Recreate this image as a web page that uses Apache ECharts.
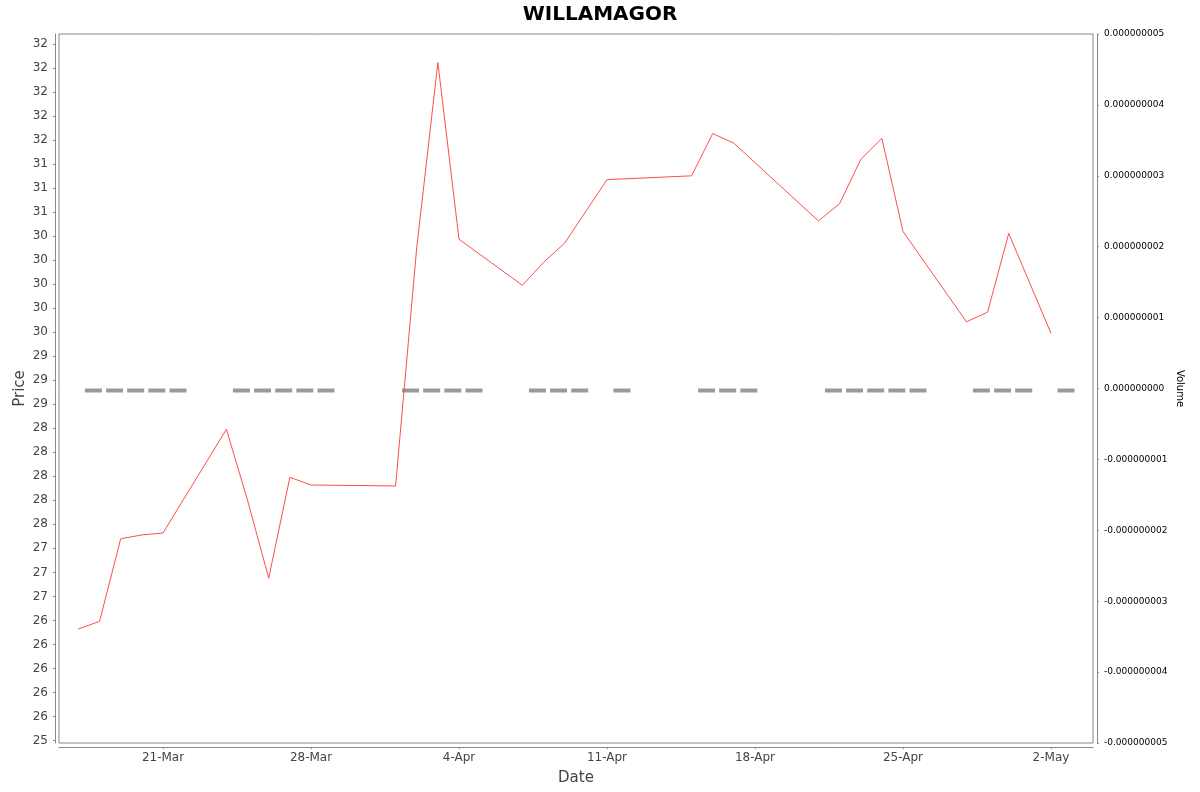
<!DOCTYPE html>
<html>
<head>
<meta charset="utf-8">
<script src="https://cdn.jsdelivr.net/npm/echarts@6/dist/echarts.min.js"></script>
<style>html,body{margin:0;padding:0;background:#fff;}#c{width:1200px;height:792px;}</style>
</head>
<body>
<div id="c"></div>
<script>
const title = 'WILLAMAGOR';
const tradeDates = ['2025-03-17','2025-03-18','2025-03-19','2025-03-20','2025-03-21',
  '2025-03-24','2025-03-25','2025-03-26','2025-03-27','2025-03-28',
  '2025-04-01','2025-04-02','2025-04-03','2025-04-04',
  '2025-04-07','2025-04-08','2025-04-09','2025-04-11',
  '2025-04-15','2025-04-16','2025-04-17',
  '2025-04-21','2025-04-22','2025-04-23','2025-04-24','2025-04-25',
  '2025-04-28','2025-04-29','2025-04-30','2025-05-02'];
const priceValues = [26.41, 26.49, 27.35, 27.39, 27.41,
  28.49, 27.75, 26.94, 27.99, 27.91,
  27.90, 30.38, 32.31, 30.47,
  29.99, 30.23, 30.43, 31.09,
  31.13, 31.57, 31.47,
  30.66, 30.84, 31.30, 31.52, 30.55,
  29.61, 29.71, 30.53, 29.49];
const volumeValues = [0,0,0,0,0, 0,0,0,0,0, 0,0,0,0, 0,0,0,0, 0,0,0, 0,0,0,0,0, 0,0,0, 0];
const dateTicks = ['2025-03-21','2025-03-28','2025-04-04','2025-04-11','2025-04-18','2025-04-25','2025-05-02'];
const priceTicks = [25.25,25.5,25.75,26,26.25,26.5,26.75,27,27.25,27.5,27.75,28,28.25,28.5,28.75,
  29,29.25,29.5,29.75,30,30.25,30.5,30.75,31,31.25,31.5,31.75,32,32.25,32.5];
const priceTickLabels = ['25','26','26','26','26','26','27','27','27','28','28','28','28','28','29',
  '29','29','30','30','30','30','30','31','31','31','32','32','32','32','32'];
const volumeTicks = [-5e-9,-4e-9,-3e-9,-2e-9,-1e-9,0,1e-9,2e-9,3e-9,4e-9,5e-9];

const DAY = 86400000;
const months = ['Jan','Feb','Mar','Apr','May','Jun','Jul','Aug','Sep','Oct','Nov','Dec'];
const t = s => Date.parse(s);
const xRef = t('2025-03-21');
const volShift = 17 * 3600000;

const priceData = tradeDates.map((d, i) => [t(d), priceValues[i]]);
const volData = tradeDates.map((d, i) => [t(d) + volShift, volumeValues[i]]);

const FONT = 'DejaVu Sans';
const chart = echarts.init(document.getElementById('c'), null, {renderer: 'canvas'});
chart.setOption({
  animation: false,
  backgroundColor: '#ffffff',
  title: {
    text: title, left: 'center', top: 0,
    textStyle: {fontFamily: FONT, fontSize: 20, fontWeight: 'bold', color: '#000'}
  },
  grid: {
    left: 59, right: 107, top: 34, bottom: 49,
    show: true, borderColor: '#888888', borderWidth: 1, backgroundColor: '#ffffff'
  },
  xAxis: {
    type: 'value',
    min: xRef - 4.919 * DAY,
    max: xRef + 43.986 * DAY,
    offset: 4,
    name: 'Date', nameLocation: 'middle', nameGap: 24, nameMoveOverlap: false,
    nameTextStyle: {fontFamily: FONT, fontSize: 15, color: '#444'},
    axisLine: {show: true, onZero: false, lineStyle: {color: '#888888', width: 1}},
    axisTick: {show: true, length: 2, lineStyle: {color: '#888888'}, customValues: dateTicks.map(t)},
    axisLabel: {
      customValues: dateTicks.map(t), margin: 5,
      fontFamily: FONT, fontSize: 12, color: '#444',
      formatter: v => { const d = new Date(v); return d.getUTCDate() + '-' + months[d.getUTCMonth()]; }
    },
    splitLine: {show: false}
  },
  yAxis: [{
    type: 'value',
    position: 'left',
    min: 25.223, max: 32.607,
    offset: 4,
    name: 'Price', nameLocation: 'middle', nameRotate: 90, nameGap: 27, nameMoveOverlap: false,
    nameTextStyle: {fontFamily: FONT, fontSize: 15, color: '#444'},
    axisLine: {show: true, onZero: false, lineStyle: {color: '#888888', width: 1}},
    axisTick: {show: true, length: 2, lineStyle: {color: '#888888'}, customValues: priceTicks},
    axisLabel: {
      customValues: priceTicks, margin: 7,
      fontFamily: FONT, fontSize: 12, color: '#444',
      formatter: v => {
        let best = 0, bd = Infinity;
        priceTicks.forEach((p, i) => { const dd = Math.abs(p - v); if (dd < bd) { bd = dd; best = i; } });
        return priceTickLabels[best];
      }
    },
    splitLine: {show: false}
  }, {
    type: 'value',
    position: 'right',
    min: -5e-9, max: 5e-9,
    offset: 4,
    name: 'Volume', nameLocation: 'middle', nameRotate: -90, nameGap: 78, nameMoveOverlap: false,
    nameTextStyle: {fontFamily: FONT, fontSize: 10, color: '#000'},
    axisLine: {show: true, onZero: false, lineStyle: {color: '#888888', width: 1}},
    axisTick: {show: true, length: 2, lineStyle: {color: '#888888'}, customValues: volumeTicks},
    axisLabel: {
      customValues: volumeTicks, margin: 7,
      fontFamily: FONT, fontSize: 9, color: '#000',
      formatter: v => (Math.abs(v) < 1e-15 ? 0 : v).toFixed(9)
    },
    splitLine: {show: false}
  }],
  series: [{
    name: 'Volume', type: 'scatter', yAxisIndex: 1,
    data: volData,
    symbol: 'rect', symbolSize: [17, 4], symbolOffset: [0, 2],
    itemStyle: {color: '#808080'},
    z: 2
  }, {
    name: 'Price', type: 'line', yAxisIndex: 0,
    data: priceData,
    showSymbol: false, symbol: 'none',
    lineStyle: {color: '#ff4d4d', width: 1},
    z: 3
  }]
});
</script>
</body>
</html>
